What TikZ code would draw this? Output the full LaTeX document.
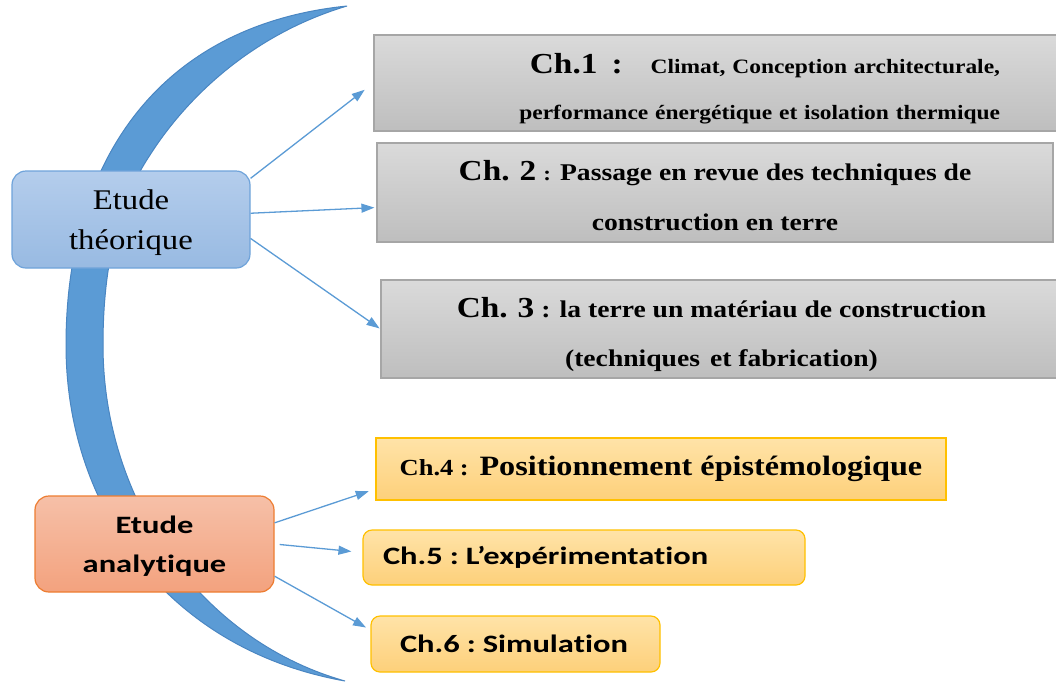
\documentclass[tikz,border=0pt]{standalone}
\usepackage{fontspec}
\usetikzlibrary{arrows.meta}
\newfontfamily\serifwide[FakeStretch=1.15]{Liberation Serif}
\newfontfamily\sanswide[FakeStretch=1.3, Ligatures=NoCommon]{Carlito}
\definecolor{arcblue}{HTML}{5B9BD5}
\definecolor{arcedge}{HTML}{4A86C2}
\definecolor{grayline}{HTML}{A6A6A6}
\definecolor{graytop}{HTML}{DADADA}
\definecolor{graybot}{HTML}{BEBEBE}
\definecolor{bluetop}{HTML}{B4CDEC}
\definecolor{bluebot}{HTML}{98BAE2}
\definecolor{blueline}{HTML}{6FA3DA}
\definecolor{redtop}{HTML}{F6C0A8}
\definecolor{redbot}{HTML}{F3A27E}
\definecolor{redline}{HTML}{ED7D31}
\definecolor{yellowtop}{HTML}{FFE3A8}
\definecolor{yellowbot}{HTML}{FDD07A}
\definecolor{yellowline}{HTML}{FFC000}
\tikzset{
	gray box/.style={draw=grayline, line width=1.2pt, top color=graytop, bottom color=graybot, inner sep=0, align=center},
	blue node/.style={rounded corners=14pt, draw=blueline, line width=1.2pt, top color=bluetop, bottom color=bluebot, align=center, inner sep=0},
	red node/.style={rounded corners=14pt, draw=redline, line width=1.2pt, top color=redtop, bottom color=redbot, align=center, inner sep=0},
	yellow node/.style={draw=yellowline, line width=1.2pt, top color=yellowtop, bottom color=yellowbot, inner sep=0},
	arrow line/.style={draw=arcblue, line width=1.3pt, -{Triangle[length=13pt,width=9pt]}},
}
\begin{document}
\begin{tikzpicture}[x=1pt, y=-1pt]
  \useasboundingbox (0,0) rectangle (1056,681);

  % the blue arc behind both groups
  \fill[arcblue, draw=arcedge, line width=1pt] (347,6) .. controls (160,25) and (66,160) .. (66,345)
    .. controls (66,510) and (170,650) .. (345,681)
    .. controls (200,640) and (103,500) .. (103,345)
    .. controls (103,260) and (120,200) .. (150,155)
    .. controls (185,100) and (250,35) .. (347,6) -- cycle;

  % etude theorique
  \node (theo) [blue node, minimum width=238, minimum height=97,
    font=\serifwide\fontsize{28.5}{40}\selectfont] at (131,219.5) {\rule{0pt}{26pt}Etude\\th\'eorique};
  \node (ch1) [gray box, minimum width=688, minimum height=96, inner xsep=62pt, text width=564pt, align=right,
    font=\serifwide\bfseries\fontsize{20.4}{46}\selectfont] at (718,83)
    {\rule{0pt}{32pt}{\fontsize{29}{46}\selectfont Ch.1\hspace{14pt}:}\hspace{28pt}Climat, Conception architecturale,\\
     performance énergétique et isolation thermique};
  \node (ch2) [gray box, minimum width=676, minimum height=99,
    font=\serifwide\bfseries\fontsize{24}{50}\selectfont] at (715,192.5)
    {\rule{0pt}{27pt}{\fontsize{29}{50}\selectfont Ch.\hspace{10pt}2} {\fontsize{20}{50}\selectfont:} Passage en revue des techniques de\\
     construction en terre};
  \node (ch3) [gray box, minimum width=681, minimum height=98,
    font=\serifwide\bfseries\fontsize{24}{49}\selectfont] at (721.5,329)
    {\rule{0pt}{31pt}{\fontsize{29}{49}\selectfont Ch.\hspace{10pt}3} : la terre un matériau de construction\\
     (techniques\hspace{10pt}et fabrication)};

  % etude analytique
  \node (ana) [red node, minimum width=239, minimum height=96,
    font=\sanswide\bfseries\fontsize{25}{39}\selectfont] at (154.5,544) {\rule{0pt}{22pt}Etude\\analytique};
  \node (ch4) [yellow node, minimum width=570, minimum height=62,
    font=\serifwide\bfseries\fontsize{28}{34}\selectfont] at (661,469)
    {{\fontsize{23}{34}\selectfont Ch.4 :} Positionnement épistémologique};
  \node (ch5) [yellow node, rounded corners=9pt, minimum height=55, inner xsep=20pt, text width=402pt, align=left,
    font=\sanswide\bfseries\fontsize{25}{30}\selectfont] at (584,557.5) {Ch.5\hspace{7pt}:\hspace{7pt}L’expérimentation};
  \node (ch6) [yellow node, rounded corners=9pt, minimum height=56, inner xsep=29pt, text width=231pt, align=left,
    font=\sanswide\bfseries\fontsize{25}{30}\selectfont] at (515.5,644) {Ch.6\hspace{7pt}:\hspace{7pt}Simulation};

  % arrows
  \draw[arrow line, shorten >=11pt] (theo.19) -- (ch1.west);
  \draw[arrow line, shorten >=2pt] (theo.3) -- ([yshift=-15pt]ch2.west);
  \draw[arrow line, shorten >=1pt] (theo.-9) -- (ch3.west);
  \draw[arrow line, shorten >=7pt] (ana.10) -- ([yshift=-20pt]ch4.west);
  \draw[arrow line, shorten <=5pt, shorten >=11pt] (ana.east) -- ([yshift=5pt]ch5.west);
  \draw[arrow line, shorten >=5pt] (ana.-15) -- ([yshift=14pt]ch6.west);
\end{tikzpicture}
\end{document}
